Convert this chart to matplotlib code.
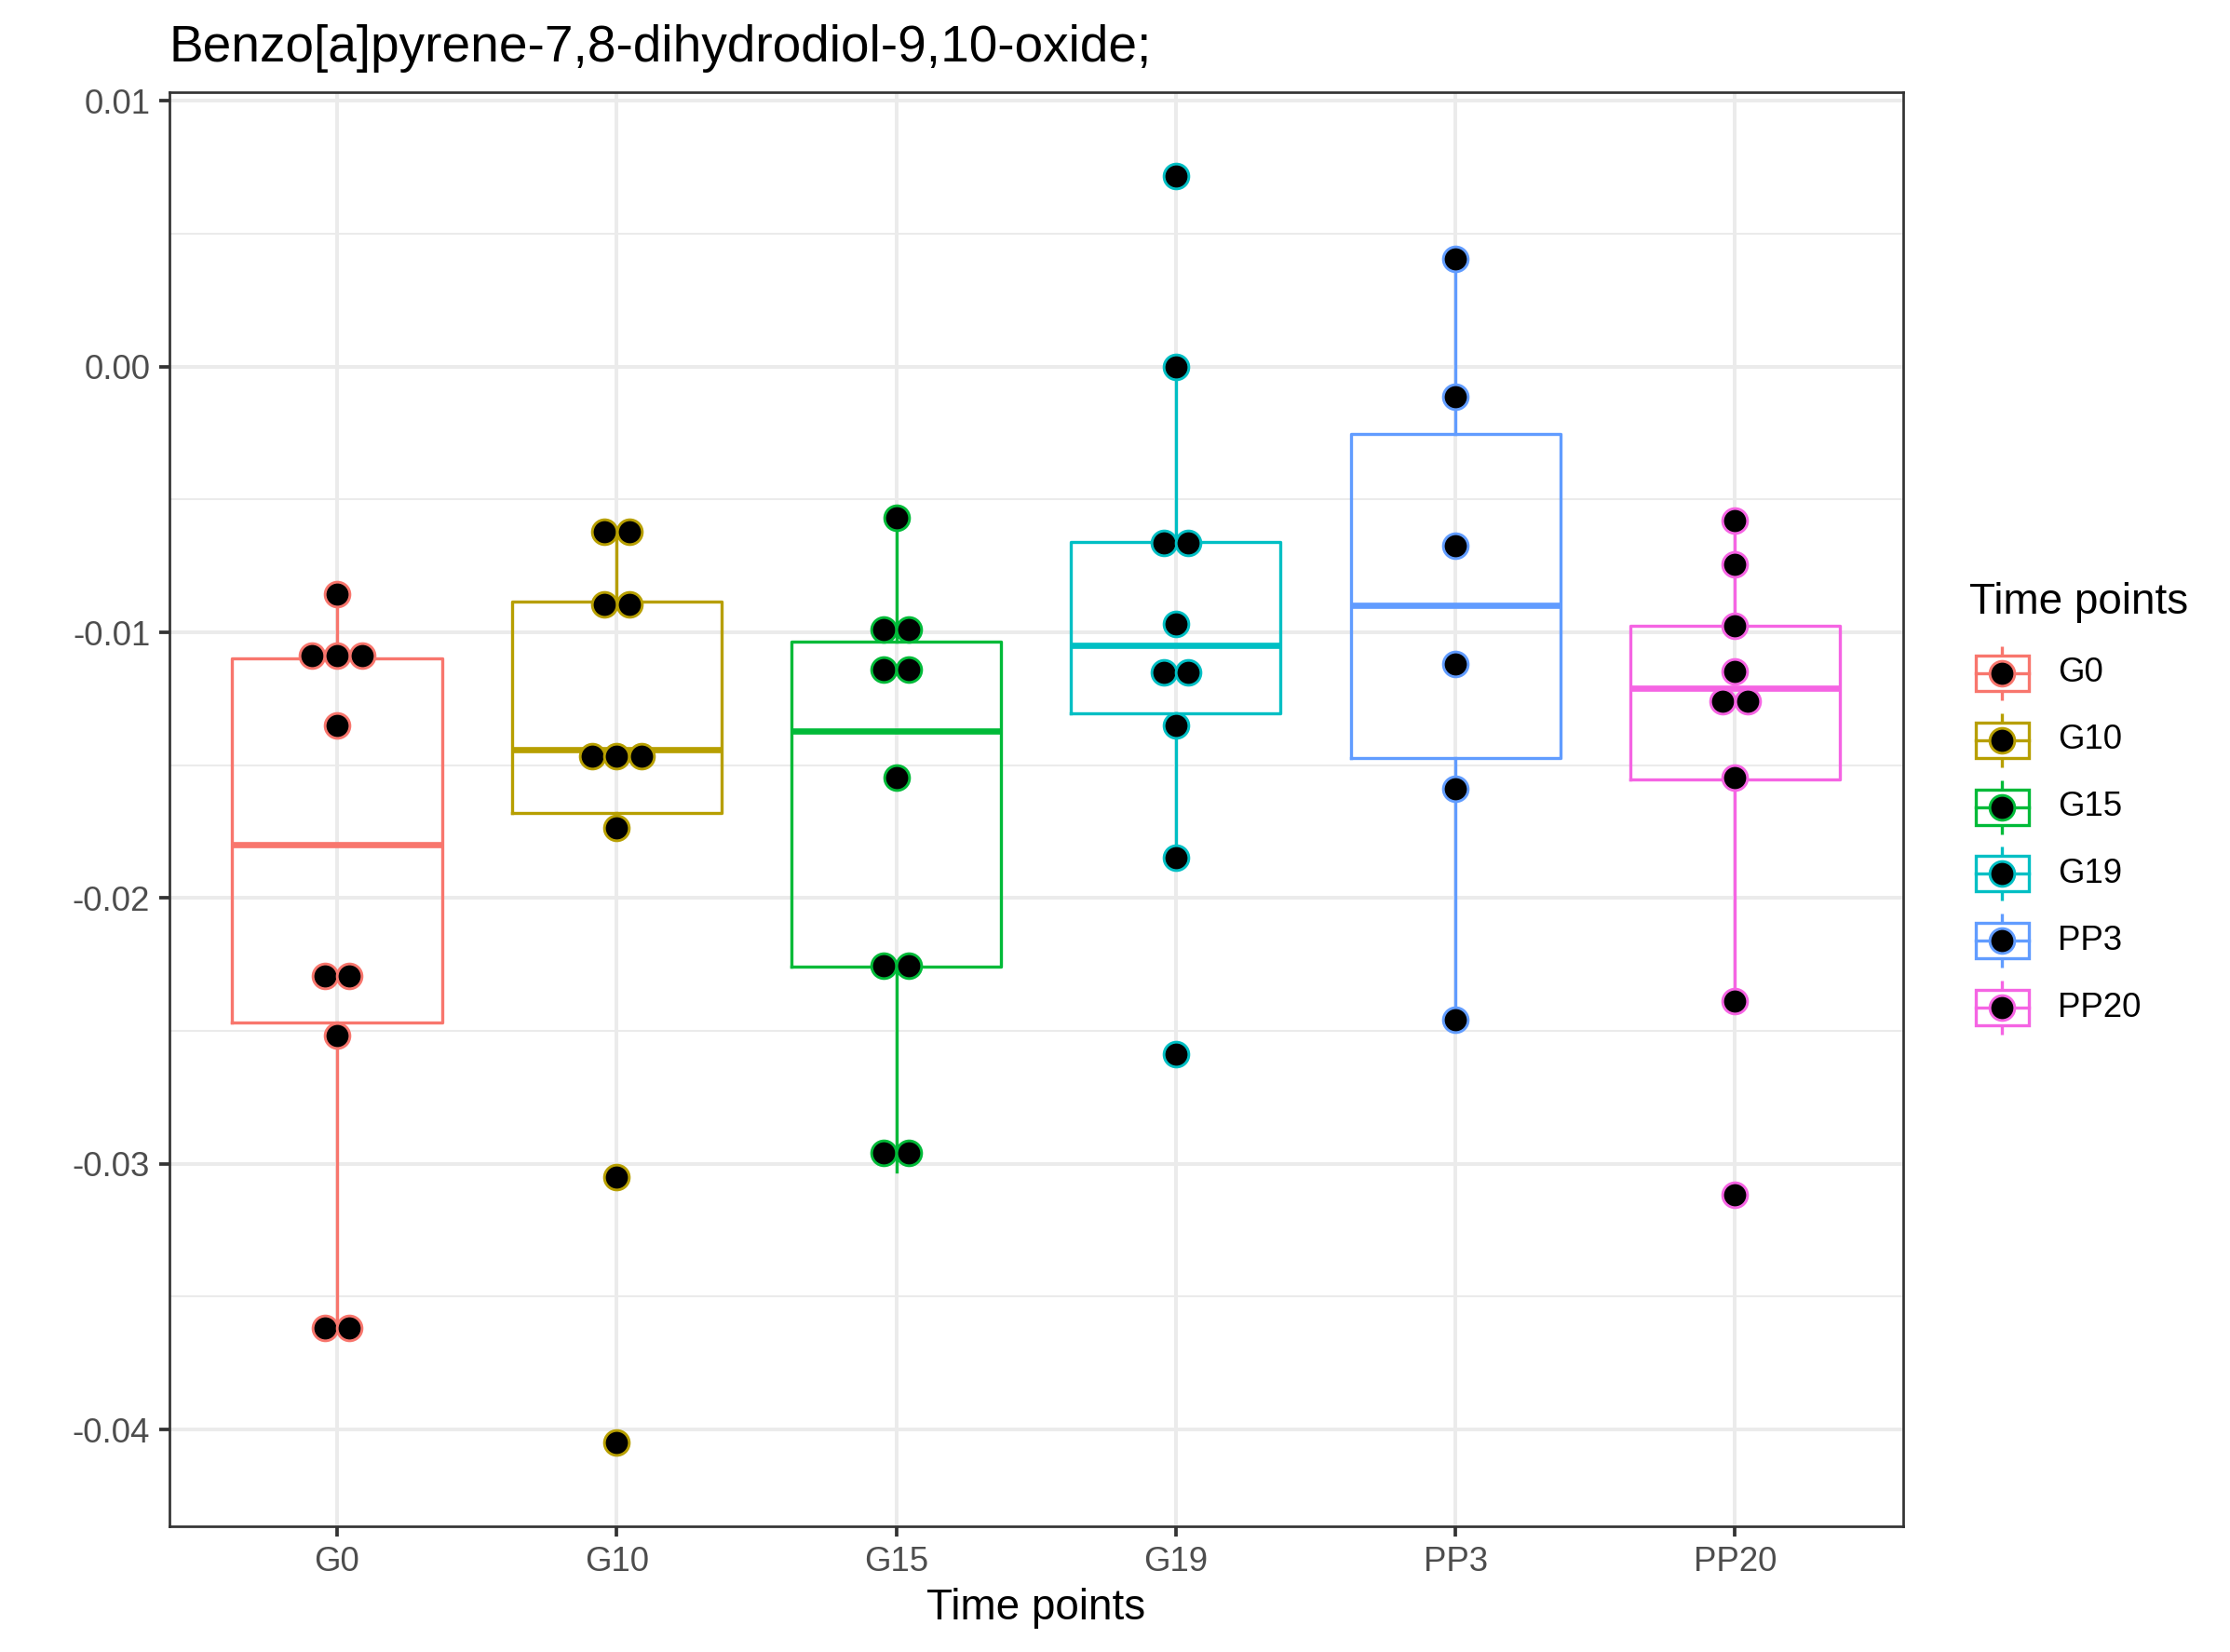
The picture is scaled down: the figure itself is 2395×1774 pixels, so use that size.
import numpy as np
import matplotlib
matplotlib.use("Agg")
import matplotlib.pyplot as plt
from matplotlib.patches import Rectangle

plt.rcParams['font.family'] = ['Liberation Sans', 'DejaVu Sans']

# data
groups = ['G0', 'G10', 'G15', 'G19', 'PP3', 'PP20']
colors = ['#F8766D', '#B79F00', '#00BA38', '#00BFC4', '#619CFF', '#F564E3']

# dot positions (dotplot bins, repeated values are stacked side by side)
dots_g0 = [-0.00857, -0.01087, -0.01087, -0.01087, -0.01349,
           -0.02291, -0.02291, -0.02516, -0.03619, -0.03619]
dots_g10 = [-0.00621, -0.00621, -0.00894, -0.00894, -0.01467,
            -0.01467, -0.01467, -0.01734, -0.03051, -0.04047]
dots_g15 = [-0.00567, -0.0099, -0.0099, -0.0114, -0.0114,
            -0.01547, -0.02254, -0.02254, -0.0296, -0.0296]
dots_g19 = [0.00717, 0.0, -0.00664, -0.00664, -0.00969,
            -0.01151, -0.01151, -0.01349, -0.01847, -0.02586]
dots_pp3 = [0.00407, -0.00112, -0.00675, -0.01119, -0.0159, -0.02457]
dots_pp20 = [-0.00578, -0.00744, -0.00974, -0.01146, -0.01258,
             -0.01258, -0.01547, -0.02388, -0.03116]
all_dots = [dots_g0, dots_g10, dots_g15, dots_g19, dots_pp3, dots_pp20]

# box statistics
q1 = [-0.02468, -0.01681, -0.02259, -0.01306, -0.01472, -0.01552]
med = [-0.01799, -0.0144, -0.0137, -0.01049, -0.00899, -0.0121]
q3 = [-0.01097, -0.00883, -0.01033, -0.00658, -0.00252, -0.00974]
whis_lo = [-0.0362, -0.01734, -0.0303, -0.01847, -0.02457, -0.02388]
whis_hi = [-0.00857, -0.00621, -0.00567, 0.0, 0.00407, -0.00578]

W, H, DPI = 2395, 1774, 300
fig = plt.figure(figsize=(W / DPI, H / DPI), dpi=DPI)
ax = fig.add_axes([0.0759, 0.0761, 0.8533 - 0.0759, 0.944 - 0.0761])

lw = 0.8
pos = np.arange(1, len(groups) + 1)

# grid
ax.set_axisbelow(True)
ax.set_yticks([-0.04, -0.03, -0.02, -0.01, 0.0, 0.01])
ax.set_yticks([-0.035, -0.025, -0.015, -0.005, 0.005], minor=True)
ax.grid(which='major', color='#EBEBEB', lw=0.95)
ax.grid(which='minor', axis='y', color='#EBEBEB', lw=0.5)

for i in range(len(groups)):
    st = dict(q1=q1[i], med=med[i], q3=q3[i], whislo=whis_lo[i], whishi=whis_hi[i], fliers=[])
    ax.bxp([st], positions=[pos[i]], widths=0.75, showfliers=False, showcaps=False,
           boxprops=dict(color=colors[i], lw=lw),
           whiskerprops=dict(color=colors[i], lw=lw),
           medianprops=dict(color=colors[i], lw=lw * 2, solid_capstyle='butt'))

    vals = np.array(all_dots[i])
    for v in np.unique(vals):
        k = np.sum(vals == v)
        xs = pos[i] + (np.arange(k) - (k - 1) / 2) * 0.089
        ax.plot(xs, np.full(k, v), 'o', ms=6.4, mfc='black', mec=colors[i],
                mew=0.7, zorder=5, clip_on=False)

ax.set_xlim(0.4, 6.6)
ax.set_ylim(-0.04364, 0.01032)
ax.set_xticks(pos)
ax.set_xticklabels(groups)
ax.set_yticklabels(['-0.04', '-0.03', '-0.02', '-0.01', '0.00', '0.01'])
ax.tick_params(which='major', length=2.75, width=0.9, color='#333333',
               labelcolor='#4D4D4D', labelsize=8.8, pad=2.2)
ax.tick_params(which='minor', length=0)
for s in ax.spines.values():
    s.set_color('#333333')
    s.set_linewidth(0.65)

ax.set_xlabel('Time points', fontsize=11, labelpad=2.5)
ax.set_title('Benzo[a]pyrene-7,8-dihydrodiol-9,10-oxide;', fontsize=13.2, loc='left', pad=8)

# legend drawn in figure pixel coordinates
lg = fig.add_axes([0, 0, 1, 1], zorder=10)
lg.set_xlim(0, W)
lg.set_ylim(H, 0)
lg.axis('off')
lg.text(2115, 647, 'Time points', fontsize=11, ha='left', va='center')
kx = 2150
for i, g in enumerate(groups):
    ky = 723 + i * 71.8
    c = colors[i]
    lg.plot([kx, kx], [ky - 29, ky - 19], color=c, lw=lw, solid_capstyle='butt')
    lg.plot([kx, kx], [ky + 19, ky + 29], color=c, lw=lw, solid_capstyle='butt')
    lg.add_patch(Rectangle((kx - 28.5, ky - 19), 57, 38, fill=False, ec=c, lw=lw))
    lg.plot([kx - 28.5, kx + 28.5], [ky, ky], color=c, lw=lw)
    lg.plot([kx], [ky], 'o', ms=6.4, mfc='black', mec=c, mew=0.7)
    lg.text(2210, ky, g, fontsize=8.8, ha='left', va='center')

fig.savefig('out.png', dpi=DPI)
